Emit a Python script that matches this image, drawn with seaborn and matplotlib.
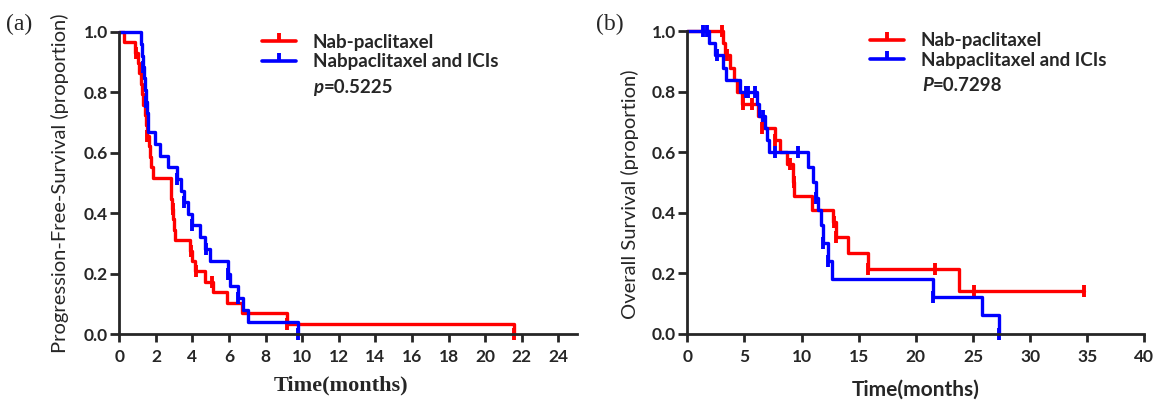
import matplotlib
matplotlib.use("Agg")
import matplotlib.pyplot as plt
from matplotlib.lines import Line2D
import seaborn as sns

# ---- data ----
# (a) progression-free survival
pfs_nab_t = [0, 0.27, 0.86, 1.04, 1.10, 1.16, 1.22, 1.30, 1.38, 1.45, 1.52, 1.60, 1.68, 1.76, 1.86,
             2.80, 2.85, 2.90, 2.96, 3.00, 3.05, 3.87, 4.00, 4.14, 4.69, 5.10, 5.87, 6.69, 9.15, 21.6]
pfs_nab_s = [1.0, 0.966, 0.931, 0.897, 0.862, 0.828, 0.793, 0.759, 0.724, 0.690, 0.655, 0.621, 0.586, 0.552, 0.517,
             0.483, 0.448, 0.414, 0.379, 0.345, 0.310, 0.276, 0.241, 0.207, 0.172, 0.138, 0.103, 0.069, 0.034, 0.0]
pfs_nab_cens_t = [0.9, 1.5, 2.92, 3.9, 4.2, 5.05, 9.15, 21.6]
pfs_nab_cens_s = [0.931, 0.655, 0.414, 0.276, 0.207, 0.172, 0.034, 0.0]

pfs_ici_t = [0, 1.19, 1.25, 1.31, 1.37, 1.43, 1.48, 1.52, 1.55, 1.58, 1.95, 2.23, 2.68, 3.14, 3.35,
             3.55, 3.75, 3.96, 4.41, 4.70, 4.96, 5.96, 6.05, 6.51, 6.78, 7.05, 9.75]
pfs_ici_s = [1.0, 0.96, 0.92, 0.885, 0.846, 0.808, 0.769, 0.731, 0.70, 0.667, 0.628, 0.590, 0.551, 0.513, 0.474,
             0.436, 0.397, 0.359, 0.320, 0.282, 0.240, 0.200, 0.160, 0.120, 0.080, 0.040, 0.0]
pfs_ici_cens_t = [1.3, 1.45, 3.15, 3.55, 3.96, 4.75, 5.96, 6.51, 9.75]
pfs_ici_cens_s = [0.885, 0.769, 0.513, 0.436, 0.359, 0.282, 0.200, 0.120, 0.0]

# (b) overall survival
os_nab_t = [0, 3.1, 3.3, 3.74, 4.09, 4.38, 4.76, 6.2, 6.5, 7.67, 8.11, 8.7, 9.22, 9.34, 10.88,
            12.78, 13.0, 14.1, 15.84, 23.8]
os_nab_s = [1.0, 0.96, 0.92, 0.88, 0.84, 0.80, 0.76, 0.72, 0.68, 0.64, 0.60, 0.56, 0.50, 0.456, 0.41,
            0.37, 0.32, 0.266, 0.213, 0.14]
os_nab_end = 34.7
os_nab_cens_t = [3.0, 3.45, 4.85, 5.7, 6.5, 7.67, 9.0, 9.3, 12.8, 13.0, 15.84, 21.7, 25.1, 34.7]
os_nab_cens_s = [1.0, 0.92, 0.76, 0.76, 0.68, 0.64, 0.56, 0.50, 0.37, 0.32, 0.213, 0.213, 0.14, 0.14]

os_ici_t = [0, 1.93, 2.42, 3.1, 3.39, 4.61, 6.07, 6.3, 6.76, 6.95, 7.17, 10.6, 11.0, 11.3, 11.46,
            11.7, 11.9, 12.34, 12.63, 21.5, 25.76, 27.3]
os_ici_s = [1.0, 0.96, 0.92, 0.88, 0.84, 0.80, 0.76, 0.72, 0.68, 0.64, 0.60, 0.55, 0.50, 0.45, 0.41,
            0.36, 0.30, 0.24, 0.18, 0.12, 0.06, 0.0]
os_ici_cens_t = [1.4, 1.7, 2.6, 5.1, 5.3, 5.9, 6.6, 7.67, 9.7, 11.3, 11.9, 12.34, 21.5, 27.3]
os_ici_cens_s = [1.0, 1.0, 0.92, 0.80, 0.80, 0.80, 0.72, 0.60, 0.60, 0.45, 0.30, 0.24, 0.12, 0.0]

groups = ["Nab-paclitaxel", "Nabpaclitaxel and ICIs"]
colors = ["#ff0000", "#0000ff"]

sns.set_style("ticks")
plt.rcParams["font.family"] = ["Lato", "DejaVu Sans"]

fig = plt.figure(figsize=(11.56, 4.03), dpi=100)
ax1 = fig.add_axes([0.1032, 0.1712, 0.3956, 0.750])
ax2 = fig.add_axes([0.5946, 0.1724, 0.3953, 0.750])


def km(ax, t, s, ct, cs, color, end=None):
    t = list(t)
    s = list(s)
    if end is not None:
        t.append(end)
        s.append(s[-1])
    sns.lineplot(x=t, y=s, ax=ax, color=color, lw=2.4, drawstyle="steps-post",
                 estimator=None, sort=False, clip_on=False)
    ax.plot(ct, cs, ls="none", marker="|", ms=9, mew=2.8, color=color, clip_on=False)


km(ax1, pfs_nab_t, pfs_nab_s, pfs_nab_cens_t, pfs_nab_cens_s, colors[0])
km(ax1, pfs_ici_t, pfs_ici_s, pfs_ici_cens_t, pfs_ici_cens_s, colors[1])
km(ax2, os_nab_t, os_nab_s, os_nab_cens_t, os_nab_cens_s, colors[0], end=os_nab_end)
km(ax2, os_ici_t, os_ici_s, os_ici_cens_t, os_ici_cens_s, colors[1])

for ax, xmax, step in [(ax1, 25, 2), (ax2, 40, 5)]:
    ax.set_xlim(0, xmax)
    ax.set_ylim(0, 1.0)
    ax.set_xticks(range(0, 25 if xmax == 25 else 41, step))
    ax.set_yticks([0, 0.2, 0.4, 0.6, 0.8, 1.0])
    ax.set_yticklabels(["0.0", "0.2", "0.4", "0.6", "0.8", "1.0"])
    for sp in ["top", "right"]:
        ax.spines[sp].set_visible(False)
    for sp in ["left", "bottom"]:
        ax.spines[sp].set_linewidth(2)
    ax.tick_params(axis="x", width=2, length=6, labelsize=12.5, pad=5)
    ax.tick_params(axis="y", width=2, length=6.5, labelsize=12.5, pad=1.5)
    for lab in ax.get_xticklabels() + ax.get_yticklabels():
        lab.set_fontweight("bold")

ax1.set_ylabel("Progression-Free-Survival (proportion)", fontsize=14.5, va="center")
ax2.set_ylabel("Overall Survival (proportion)", fontsize=14.5, va="center")
ax1.yaxis.set_label_coords(-0.13, 0.5)
ax2.yaxis.set_label_coords(-0.125, 0.46)
ax1.set_xlabel("Time(months)", fontsize=16, fontweight="bold", family="Liberation Serif", va="center")
ax2.set_xlabel("Time(months)", fontsize=15, fontweight="bold", va="center")
ax1.xaxis.set_label_coords(0.485, -0.169)
ax2.xaxis.set_label_coords(0.50, -0.185)

handles = [Line2D([], [], color=c, lw=2.6, marker=2, ms=6, mew=2.8) for c in colors]
for ax, anchor in [(ax1, (0.312, 0.993)), (ax2, (0.40, 0.996))]:
    ax.legend(handles, groups, loc="upper left", bbox_to_anchor=anchor, frameon=False,
              borderpad=0, borderaxespad=0,
              handlelength=1.8, handletextpad=0.9, labelspacing=0.12,
              prop={"weight": "bold", "size": 13.5})
ptxt1 = ax1.text(0.424, 0.815, "p", transform=ax1.transAxes, fontsize=13.5,
                 fontweight="bold", style="italic", va="center")
ax1.annotate("=0.5225", xy=(1, 0), xycoords=ptxt1, fontsize=13.5, fontweight="bold", va="bottom")
ptxt2 = ax2.text(0.5136, 0.822, "P", transform=ax2.transAxes, fontsize=13.5,
                 fontweight="bold", style="italic", va="center")
ax2.annotate("=0.7298", xy=(1, 0), xycoords=ptxt2, fontsize=13.5, fontweight="bold", va="bottom")

fig.text(0.005, 0.925, "(a)", fontsize=17, family="Liberation Serif")
fig.text(0.516, 0.925, "(b)", fontsize=17, family="Liberation Serif")

plt.savefig("out.png", dpi=100)
